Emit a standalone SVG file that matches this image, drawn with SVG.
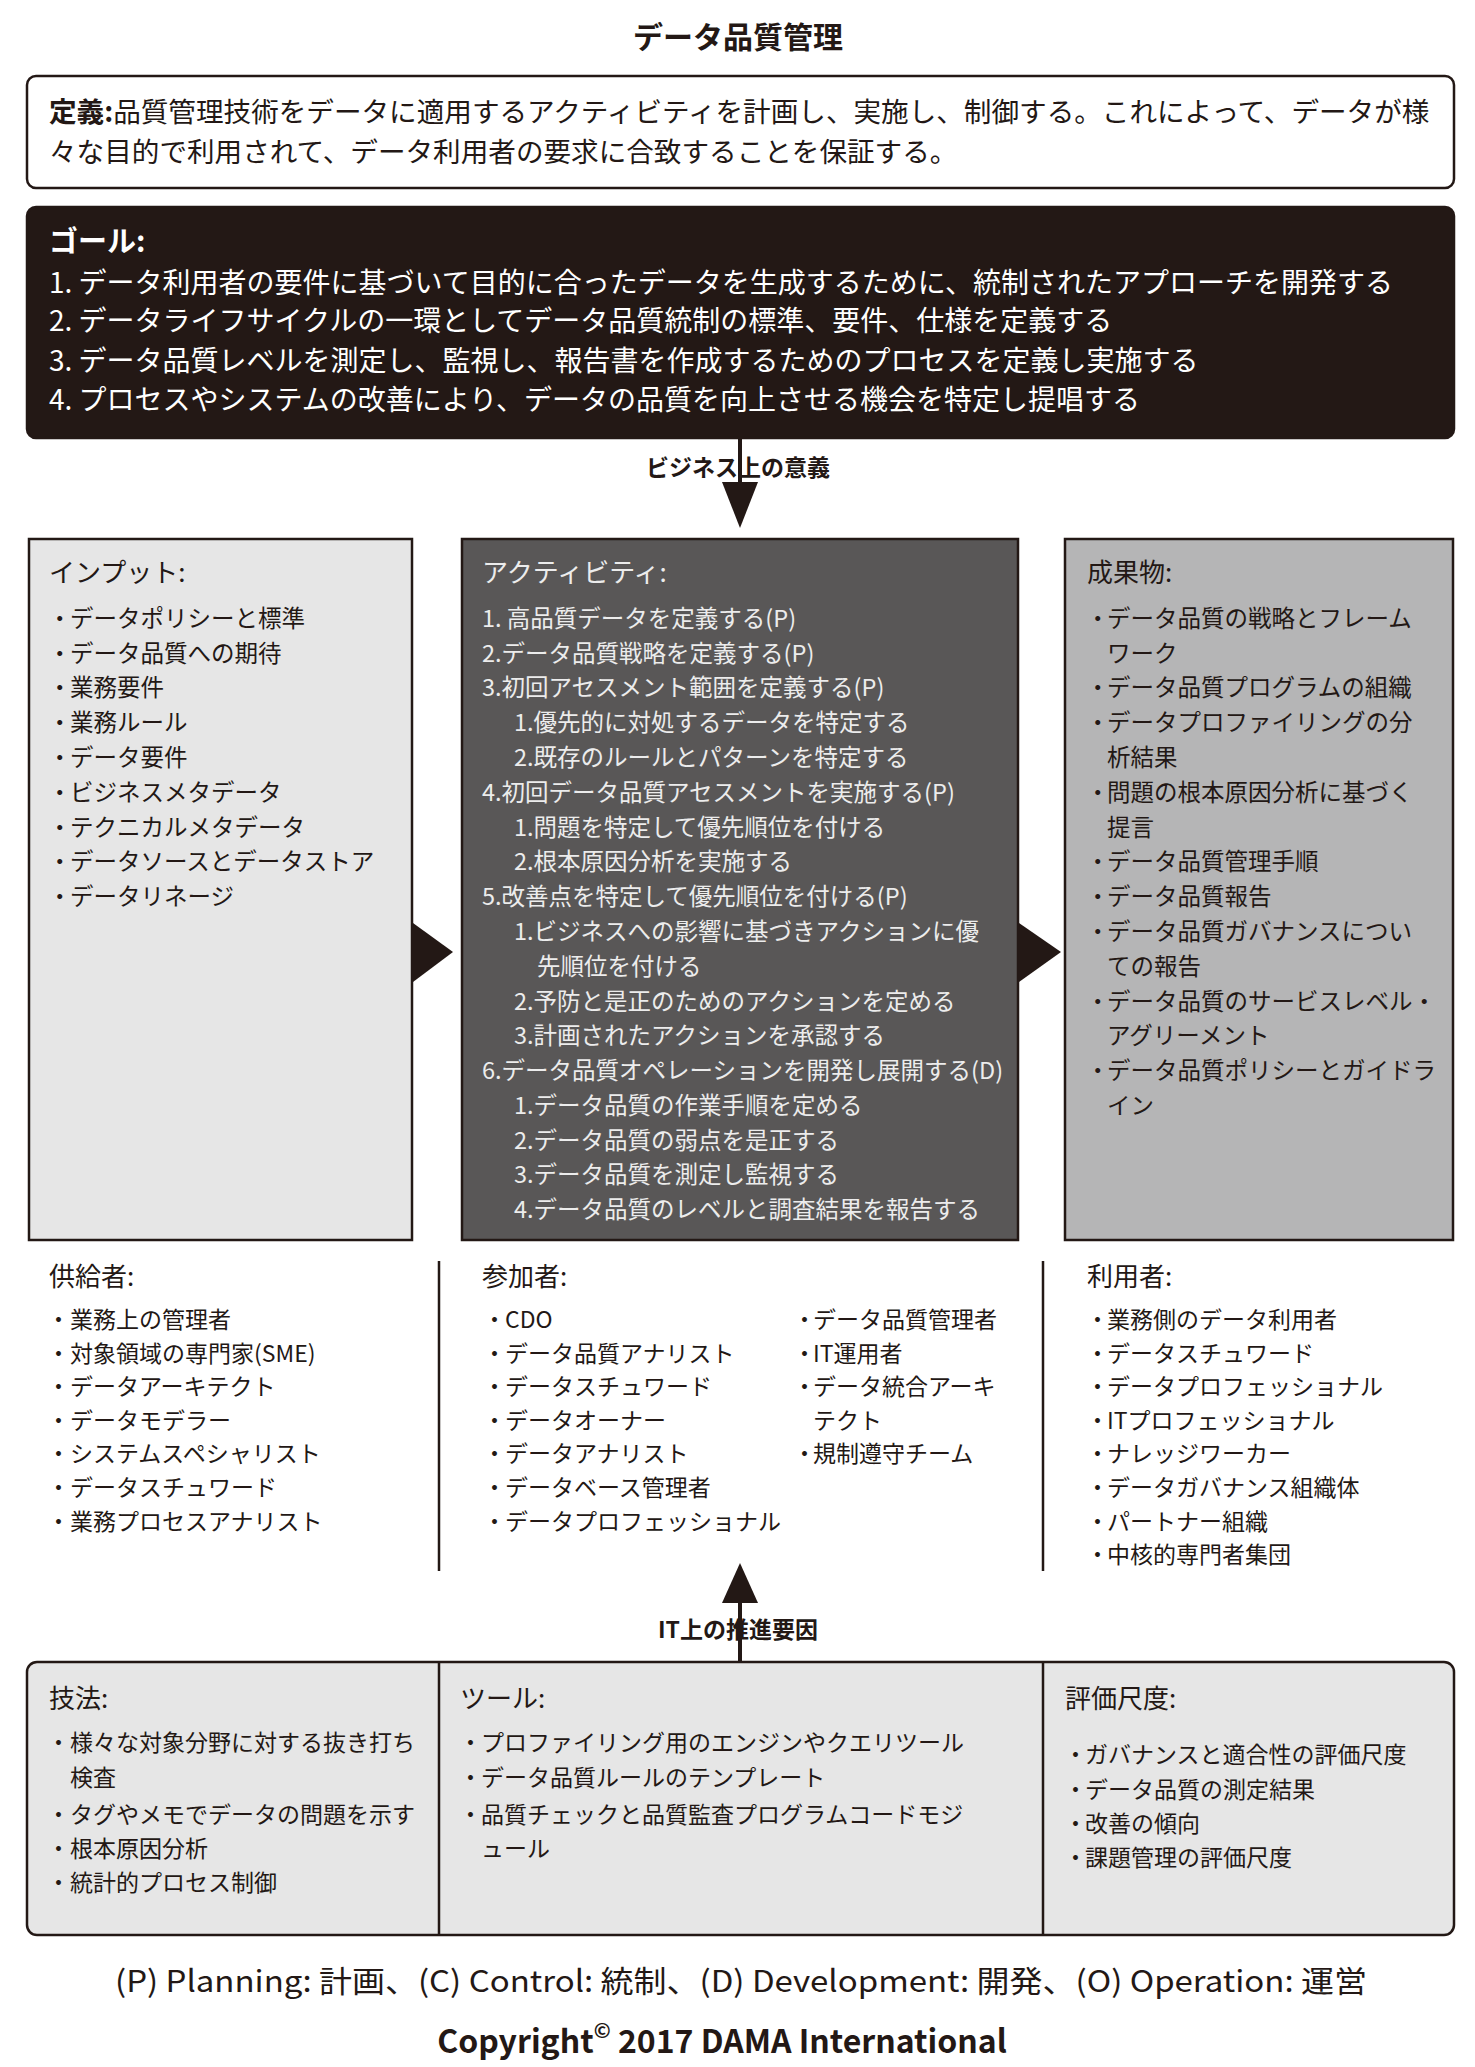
<svg xmlns="http://www.w3.org/2000/svg" width="1475" height="2067" viewBox="0 0 1475 2067">
<style>
text{font-family:"Noto Sans CJK JP","Noto Sans",sans-serif;fill:#231815}
.title{font-size:30px;font-weight:bold}
.def{font-size:27.6px}
.goal{font-size:28px;fill:#ffffff}
.goalh{font-size:29px;font-weight:bold;fill:#ffffff}
.h{font-size:26px}
.it{font-size:23.5px}
.act{font-size:23.5px;fill:#ececec}
.acth{font-size:26px;fill:#ececec}
.low{font-size:23px}
.lowh{font-size:26px}
.lbl{font-size:23px;font-weight:bold}
.foot{font-size:30px}
.copy{font-size:32px;font-weight:bold}
.box{stroke:#231815;stroke-width:2.5}
.conn{stroke:#231815;stroke-width:4;fill:none}
.head{fill:#231815}
.div{stroke:#231815;stroke-width:2.5}
</style>

<text class="title" x="738" y="48" text-anchor="middle">データ品質管理</text>

<g id="definition">
<rect x="27" y="76" width="1427" height="112" rx="9" fill="#ffffff" class="box"/>
<text class="def" x="49" y="122"><tspan font-weight="bold">定義:</tspan>品質管理技術をデータに適用するアクティビティを計画し、実施し、制御する。これによって、データが様</text>
<text class="def" x="49" y="162">々な目的で利用されて、データ利用者の要求に合致することを保証する。</text>
</g>

<g id="goals">
<rect x="27" y="207" width="1427" height="231" rx="9" fill="#231815" class="box"/>
<text class="goalh" x="49" y="252">ゴール:</text>
<text class="goal" x="49" y="293">1. データ利用者の要件に基づいて目的に合ったデータを生成するために、統制されたアプローチを開発する</text>
<text class="goal" x="49" y="331">2. データライフサイクルの一環としてデータ品質統制の標準、要件、仕様を定義する</text>
<text class="goal" x="49" y="371">3. データ品質レベルを測定し、監視し、報告書を作成するためのプロセスを定義し実施する</text>
<text class="goal" x="49" y="410">4. プロセスやシステムの改善により、データの品質を向上させる機会を特定し提唱する</text>
</g>

<g id="inputs">
<rect x="29" y="539" width="383" height="701" fill="#e6e6e6" class="box"/>
<text class="h" x="49" y="582">インプット:</text>
<text class="it" x="48" y="627">・</text><text class="it" x="70" y="627">データポリシーと標準</text>
<text class="it" x="48" y="662">・</text><text class="it" x="70" y="662">データ品質への期待</text>
<text class="it" x="48" y="696">・</text><text class="it" x="70" y="696">業務要件</text>
<text class="it" x="48" y="731">・</text><text class="it" x="70" y="731">業務ルール</text>
<text class="it" x="48" y="766">・</text><text class="it" x="70" y="766">データ要件</text>
<text class="it" x="48" y="801">・</text><text class="it" x="70" y="801">ビジネスメタデータ</text>
<text class="it" x="48" y="836">・</text><text class="it" x="70" y="836">テクニカルメタデータ</text>
<text class="it" x="48" y="870">・</text><text class="it" x="70" y="870">データソースとデータストア</text>
<text class="it" x="48" y="905">・</text><text class="it" x="70" y="905">データリネージ</text>
</g>

<g id="activities">
<rect x="462" y="539" width="556" height="701" fill="#595757" class="box"/>
<text class="acth" x="482" y="582">アクティビティ:</text>
<text class="act" x="482" y="627">1. 高品質データを定義する(P)</text>
<text class="act" x="482" y="662">2.データ品質戦略を定義する(P)</text>
<text class="act" x="482" y="696">3.初回アセスメント範囲を定義する(P)</text>
<text class="act" x="514" y="731">1.優先的に対処するデータを特定する</text>
<text class="act" x="514" y="766">2.既存のルールとパターンを特定する</text>
<text class="act" x="482" y="801">4.初回データ品質アセスメントを実施する(P)</text>
<text class="act" x="514" y="836">1.問題を特定して優先順位を付ける</text>
<text class="act" x="514" y="870">2.根本原因分析を実施する</text>
<text class="act" x="482" y="905">5.改善点を特定して優先順位を付ける(P)</text>
<text class="act" x="514" y="940">1.ビジネスへの影響に基づきアクションに優</text>
<text class="act" x="537" y="975">先順位を付ける</text>
<text class="act" x="514" y="1010">2.予防と是正のためのアクションを定める</text>
<text class="act" x="514" y="1044">3.計画されたアクションを承認する</text>
<text class="act" x="482" y="1079">6.データ品質オペレーションを開発し展開する(D)</text>
<text class="act" x="514" y="1114">1.データ品質の作業手順を定める</text>
<text class="act" x="514" y="1149">2.データ品質の弱点を是正する</text>
<text class="act" x="514" y="1183">3.データ品質を測定し監視する</text>
<text class="act" x="514" y="1218">4.データ品質のレベルと調査結果を報告する</text>
</g>

<g id="deliverables">
<rect x="1065" y="539" width="388" height="701" fill="#b5b5b6" class="box"/>
<text class="h" x="1087" y="582">成果物:</text>
<text class="it" x="1086" y="627">・</text><text class="it" x="1107" y="627">データ品質の戦略とフレーム</text>
<text class="it" x="1107" y="662">ワーク</text>
<text class="it" x="1086" y="696">・</text><text class="it" x="1107" y="696">データ品質プログラムの組織</text>
<text class="it" x="1086" y="731">・</text><text class="it" x="1107" y="731">データプロファイリングの分</text>
<text class="it" x="1107" y="766">析結果</text>
<text class="it" x="1086" y="801">・</text><text class="it" x="1107" y="801">問題の根本原因分析に基づく</text>
<text class="it" x="1107" y="836">提言</text>
<text class="it" x="1086" y="870">・</text><text class="it" x="1107" y="870">データ品質管理手順</text>
<text class="it" x="1086" y="905">・</text><text class="it" x="1107" y="905">データ品質報告</text>
<text class="it" x="1086" y="940">・</text><text class="it" x="1107" y="940">データ品質ガバナンスについ</text>
<text class="it" x="1107" y="975">ての報告</text>
<text class="it" x="1086" y="1010">・</text><text class="it" x="1107" y="1010">データ品質のサービスレベル・</text>
<text class="it" x="1107" y="1044">アグリーメント</text>
<text class="it" x="1086" y="1079">・</text><text class="it" x="1107" y="1079">データ品質ポリシーとガイドラ</text>
<text class="it" x="1107" y="1114">イン</text>
</g>

<g id="suppliers">
<text class="lowh" x="49" y="1286">供給者:</text>
<text class="low" x="47" y="1328">・</text><text class="low" x="70" y="1328">業務上の管理者</text>
<text class="low" x="47" y="1362">・</text><text class="low" x="70" y="1362">対象領域の専門家(SME)</text>
<text class="low" x="47" y="1395">・</text><text class="low" x="70" y="1395">データアーキテクト</text>
<text class="low" x="47" y="1429">・</text><text class="low" x="70" y="1429">データモデラー</text>
<text class="low" x="47" y="1462">・</text><text class="low" x="70" y="1462">システムスペシャリスト</text>
<text class="low" x="47" y="1496">・</text><text class="low" x="70" y="1496">データスチュワード</text>
<text class="low" x="47" y="1530">・</text><text class="low" x="70" y="1530">業務プロセスアナリスト</text>
</g>

<g id="participants">
<line x1="439" y1="1261" x2="439" y2="1571" class="div"/>
<line x1="1043" y1="1261" x2="1043" y2="1571" class="div"/>
<text class="lowh" x="482" y="1286">参加者:</text>
<text class="low" x="483" y="1328">・</text><text class="low" x="505" y="1328">CDO</text>
<text class="low" x="483" y="1362">・</text><text class="low" x="505" y="1362">データ品質アナリスト</text>
<text class="low" x="483" y="1395">・</text><text class="low" x="505" y="1395">データスチュワード</text>
<text class="low" x="483" y="1429">・</text><text class="low" x="505" y="1429">データオーナー</text>
<text class="low" x="483" y="1462">・</text><text class="low" x="505" y="1462">データアナリスト</text>
<text class="low" x="483" y="1496">・</text><text class="low" x="505" y="1496">データベース管理者</text>
<text class="low" x="483" y="1530">・</text><text class="low" x="505" y="1530">データプロフェッショナル</text>
<text class="low" x="793" y="1328">・</text><text class="low" x="813" y="1328">データ品質管理者</text>
<text class="low" x="793" y="1362">・</text><text class="low" x="813" y="1362">IT運用者</text>
<text class="low" x="793" y="1395">・</text><text class="low" x="813" y="1395">データ統合アーキ</text>
<text class="low" x="813" y="1429">テクト</text>
<text class="low" x="793" y="1462">・</text><text class="low" x="813" y="1462">規制遵守チーム</text>
</g>

<g id="consumers">
<text class="lowh" x="1087" y="1286">利用者:</text>
<text class="low" x="1086" y="1328">・</text><text class="low" x="1107" y="1328">業務側のデータ利用者</text>
<text class="low" x="1086" y="1362">・</text><text class="low" x="1107" y="1362">データスチュワード</text>
<text class="low" x="1086" y="1395">・</text><text class="low" x="1107" y="1395">データプロフェッショナル</text>
<text class="low" x="1086" y="1429">・</text><text class="low" x="1107" y="1429">ITプロフェッショナル</text>
<text class="low" x="1086" y="1462">・</text><text class="low" x="1107" y="1462">ナレッジワーカー</text>
<text class="low" x="1086" y="1496">・</text><text class="low" x="1107" y="1496">データガバナンス組織体</text>
<text class="low" x="1086" y="1530">・</text><text class="low" x="1107" y="1530">パートナー組織</text>
<text class="low" x="1086" y="1563">・</text><text class="low" x="1107" y="1563">中核的専門者集団</text>
</g>

<g id="technical-drivers">
<rect x="27" y="1662" width="1427" height="273" rx="10" fill="#e6e6e6" class="box"/>
<line x1="439" y1="1662" x2="439" y2="1935" class="div"/>
<line x1="1043" y1="1662" x2="1043" y2="1935" class="div"/>
<g id="techniques">
<text class="lowh" x="49" y="1708">技法:</text>
<text class="low" x="47" y="1751">・</text><text class="low" x="70" y="1751">様々な対象分野に対する抜き打ち</text>
<text class="low" x="70" y="1786">検査</text>
<text class="low" x="47" y="1823">・</text><text class="low" x="70" y="1823">タグやメモでデータの問題を示す</text>
<text class="low" x="47" y="1857">・</text><text class="low" x="70" y="1857">根本原因分析</text>
<text class="low" x="47" y="1891">・</text><text class="low" x="70" y="1891">統計的プロセス制御</text>
</g>
<g id="tools">
<text class="lowh" x="460" y="1708">ツール:</text>
<text class="low" x="459" y="1751">・</text><text class="low" x="481" y="1751">プロファイリング用のエンジンやクエリツール</text>
<text class="low" x="459" y="1786">・</text><text class="low" x="481" y="1786">データ品質ルールのテンプレート</text>
<text class="low" x="459" y="1823">・</text><text class="low" x="481" y="1823">品質チェックと品質監査プログラムコードモジ</text>
<text class="low" x="481" y="1857">ュール</text>
</g>
<g id="metrics">
<text class="lowh" x="1065" y="1708">評価尺度:</text>
<text class="low" x="1064" y="1763">・</text><text class="low" x="1085" y="1763">ガバナンスと適合性の評価尺度</text>
<text class="low" x="1064" y="1798">・</text><text class="low" x="1085" y="1798">データ品質の測定結果</text>
<text class="low" x="1064" y="1832">・</text><text class="low" x="1085" y="1832">改善の傾向</text>
<text class="low" x="1064" y="1866">・</text><text class="low" x="1085" y="1866">課題管理の評価尺度</text>
</g>
</g>

<g id="connectors">
<line x1="740" y1="438" x2="740" y2="486" class="conn"/>
<polygon points="722,482 758,482 740,528" class="head"/>
<text class="lbl" x="738" y="476" text-anchor="middle">ビジネス上の意義</text>
<polygon points="413,923 413,982 453,952" class="head"/>
<polygon points="1019,923 1019,982 1061,952" class="head"/>
<polygon points="740,1563 722,1603 758,1603" class="head"/>
<line x1="740" y1="1598" x2="740" y2="1662" class="conn"/>
<text class="lbl" x="738" y="1638" text-anchor="middle">IT上の推進要因</text>
</g>

<text class="foot" x="115" y="1992" textLength="1252" lengthAdjust="spacingAndGlyphs">(P) Planning: 計画、(C) Control: 統制、(D) Development: 開発、(O) Operation: 運営</text>
<text class="copy" x="722" y="2053" text-anchor="middle">Copyright<tspan font-size="20" dy="-15">©</tspan><tspan dy="15"> 2017 DAMA International</tspan></text>
</svg>
